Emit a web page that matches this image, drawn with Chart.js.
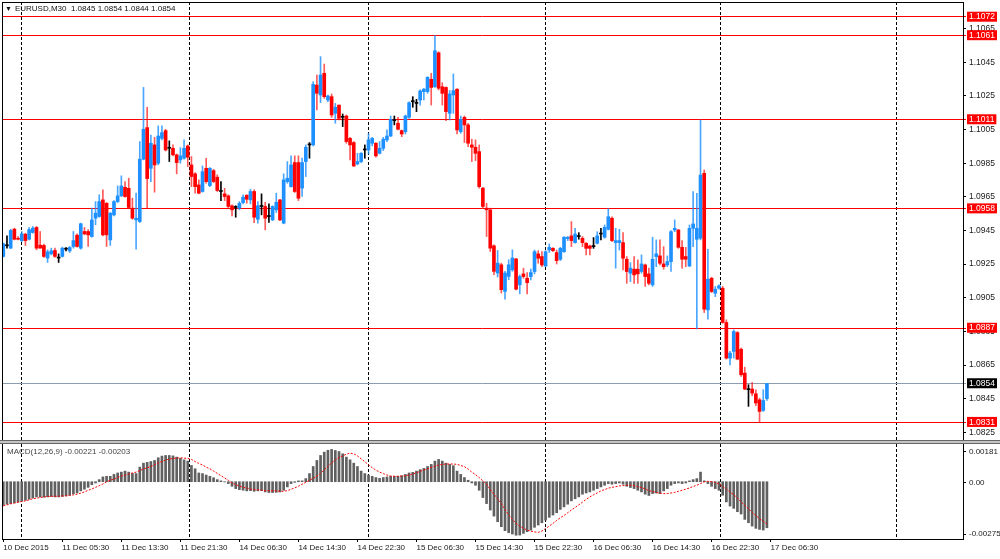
<!DOCTYPE html>
<html>
<head>
<meta charset="utf-8">
<script src="https://cdn.jsdelivr.net/npm/chart.js@4.4.0/dist/chart.umd.min.js"></script>
<style>
  body { margin: 0; background: #fff; width: 1000px; height: 559px; overflow: hidden; position: relative;
         font-family: "Liberation Sans", Arial, sans-serif; }
  canvas { position: absolute; left: 0; }
  #main { top: 0; }
  #macd { top: 441px; }
  .frame { position: absolute; left: 2px; top: 2px; width: 961px; height: 438px; border-left: 1px solid #000; border-top: 1px solid #000; box-sizing: border-box; pointer-events: none; }
  .frame2 { position: absolute; left: 2px; top: 443px; width: 1px; height: 96px; background: #000; }
  .split { position: absolute; left: 0; top: 440px; width: 1000px; height: 4px; background: #c4c4c4; border-top: 1px solid #666; border-bottom: 1px solid #666; box-sizing: border-box; }
  .hdr { position: absolute; left: 5px; top: 4px; font-size: 8px; color: #111; white-space: pre; }
  .hdr b { font-weight: normal; font-size: 7px; margin-right: 3px; }
  .mtitle { position: absolute; left: 7px; top: 447px; font-size: 8px; color: #444; white-space: pre; }
</style>
</head>
<body>
<canvas id="main" width="1000" height="441"></canvas>
<canvas id="macd" width="1000" height="118"></canvas>
<div class="frame"></div>
<div class="frame2"></div>
<div class="split"></div>
<div class="hdr"><b>▼</b>EURUSD,M30  1.0845 1.0854 1.0844 1.0854</div>
<div class="mtitle">MACD(12,26,9) -0.00221 -0.00203</div>
<script>
// EURUSD M30 candles, 10 Dec 21:30 .. 17 Dec 06:00
const opens = [
  1.09296,1.09359,1.09345,1.09458,1.09404,1.09390,1.09428,1.09398,1.09438,1.09468,
  1.09363,1.09361,1.09286,1.09311,1.09331,1.09286,1.09296,1.09339,1.09329,1.09355,
  1.09422,1.09345,1.09444,1.09444,1.09414,1.09523,1.09533,1.09632,1.09612,1.09394,
  1.09543,1.09622,1.09656,1.09707,1.09701,1.09583,1.09513,1.09503,1.09874,1.10062,
  1.09820,1.09959,1.09850,1.09998,1.10044,1.09939,1.09939,1.09900,1.09870,1.09880,
  1.09953,1.09840,1.09787,1.09721,1.09682,1.09820,1.09717,1.09806,1.09767,1.09682,
  1.09668,1.09656,1.09597,1.09587,1.09583,1.09616,1.09660,1.09632,1.09682,1.09517,
  1.09593,1.09593,1.09533,1.09513,1.09573,1.09632,1.09494,1.09741,1.09711,1.09854,
  1.09854,1.09702,1.09860,1.09959,1.09959,1.10315,1.10256,1.10385,1.10226,1.10246,
  1.10147,1.10196,1.10123,1.10131,1.09998,1.09973,1.09846,1.09860,1.09929,1.09929,
  1.09969,1.09969,1.09909,1.09939,1.09989,1.10012,1.10103,1.10088,1.10044,1.10038,
  1.10123,1.10216,1.10206,1.10226,1.10276,1.10276,1.10349,1.10305,1.10507,1.10305,
  1.10301,1.10147,1.10256,1.10290,1.10038,1.10123,1.10078,1.09959,1.09945,1.09919,
  1.09702,1.09583,1.09573,1.09359,1.09197,1.09246,1.09088,1.09177,1.09216,1.09281,
  1.09127,1.09192,1.09166,1.09176,1.09206,1.09311,1.09295,1.09239,1.09334,1.09344,
  1.09319,1.09279,1.09324,1.09402,1.09418,1.09378,1.09414,1.09404,1.09374,1.09358,
  1.09354,1.09374,1.09429,1.09410,1.09457,1.09523,1.09378,1.09378,1.09378,1.09279,
  1.09196,1.09220,1.09220,1.09206,1.09245,1.09192,1.09127,1.09295,1.09299,1.09251,
  1.09245,1.09265,1.09453,1.09453,1.09350,1.09295,1.09239,1.09463,1.09398,1.09404,
  1.09790,1.08978,1.09166,1.09077,1.09107,1.09107,1.08903,1.08691,1.08731,1.08843,
  1.08744,1.08602,1.08503,1.08507,1.08479,1.08443,1.08380,1.08450
];
const highs = [
  1.09375,1.09418,1.09458,1.09464,1.09414,1.09444,1.09434,1.09468,1.09474,1.09474,
  1.09444,1.09369,1.09335,1.09345,1.09345,1.09311,1.09351,1.09349,1.09355,1.09444,
  1.09430,1.09494,1.09468,1.09455,1.09583,1.09622,1.09662,1.09692,1.09616,1.09557,
  1.09628,1.09715,1.09775,1.09741,1.09761,1.09642,1.09672,1.09979,1.10301,1.10183,
  1.10018,1.10004,1.10072,1.10072,1.10052,1.09983,1.09959,1.09905,1.09943,1.09989,
  1.09959,1.09890,1.09795,1.09751,1.09834,1.09880,1.09824,1.09814,1.09781,1.09741,
  1.09701,1.09662,1.09602,1.09597,1.09622,1.09662,1.09662,1.09696,1.09692,1.09622,
  1.09668,1.09618,1.09608,1.09597,1.09672,1.09636,1.09787,1.09860,1.09894,1.09894,
  1.09894,1.09880,1.09959,1.09973,1.10335,1.10375,1.10484,1.10440,1.10256,1.10262,
  1.10206,1.10196,1.10143,1.10137,1.10004,1.09979,1.09909,1.09913,1.09959,1.10028,
  1.10004,1.09973,1.09979,1.10004,1.10048,1.10131,1.10131,1.10123,1.10048,1.10137,
  1.10216,1.10246,1.10230,1.10286,1.10296,1.10365,1.10385,1.10610,1.10513,1.10329,
  1.10305,1.10282,1.10381,1.10294,1.10131,1.10131,1.10088,1.09993,1.09989,1.09959,
  1.09707,1.09612,1.09583,1.09365,1.09331,1.09256,1.09207,1.09276,1.09335,1.09285,
  1.09186,1.09226,1.09200,1.09220,1.09334,1.09330,1.09324,1.09330,1.09370,1.09348,
  1.09334,1.09350,1.09414,1.09414,1.09503,1.09463,1.09437,1.09414,1.09378,1.09364,
  1.09408,1.09443,1.09463,1.09483,1.09580,1.09532,1.09463,1.09457,1.09437,1.09295,
  1.09259,1.09295,1.09275,1.09305,1.09251,1.09226,1.09410,1.09394,1.09394,1.09354,
  1.09299,1.09449,1.09513,1.09457,1.09390,1.09350,1.09483,1.09681,1.09671,1.10107,
  1.09810,1.09338,1.09172,1.09117,1.09127,1.09117,1.08919,1.08731,1.08859,1.08849,
  1.08750,1.08637,1.08533,1.08546,1.08503,1.08453,1.08503,1.08540
];
const lows = [
  1.09292,1.09345,1.09343,1.09394,1.09394,1.09384,1.09361,1.09394,1.09434,1.09335,
  1.09345,1.09290,1.09260,1.09305,1.09290,1.09260,1.09292,1.09329,1.09319,1.09345,
  1.09351,1.09339,1.09424,1.09355,1.09410,1.09484,1.09529,1.09418,1.09355,1.09361,
  1.09537,1.09616,1.09652,1.09648,1.09583,1.09517,1.09339,1.09497,1.09870,1.09583,
  1.09741,1.09678,1.09840,1.09989,1.09923,1.09860,1.09894,1.09787,1.09850,1.09874,
  1.09830,1.09711,1.09672,1.09668,1.09678,1.09731,1.09711,1.09735,1.09682,1.09628,
  1.09628,1.09583,1.09537,1.09529,1.09573,1.09608,1.09612,1.09608,1.09497,1.09494,
  1.09543,1.09454,1.09498,1.09509,1.09557,1.09509,1.09490,1.09731,1.09707,1.09676,
  1.09628,1.09652,1.09771,1.09880,1.09953,1.10167,1.10210,1.10236,1.10216,1.10123,
  1.10088,1.10107,1.10068,1.09969,1.09870,1.09830,1.09840,1.09854,1.09880,1.09905,
  1.09953,1.09886,1.09905,1.09925,1.09979,1.10008,1.10078,1.10048,1.10008,1.10024,
  1.10117,1.10183,1.10157,1.10196,1.10226,1.10266,1.10196,1.10301,1.10286,1.10196,
  1.10103,1.10107,1.10147,1.10024,1.10028,1.09973,1.09949,1.09860,1.09866,1.09702,
  1.09583,1.09414,1.09325,1.09187,1.09173,1.09078,1.09042,1.09157,1.09207,1.09097,
  1.09073,1.09166,1.09073,1.09156,1.09192,1.09255,1.09235,1.09235,1.09319,1.09324,
  1.09251,1.09271,1.09319,1.09390,1.09354,1.09374,1.09398,1.09354,1.09305,1.09305,
  1.09344,1.09370,1.09394,1.09404,1.09453,1.09384,1.09226,1.09334,1.09216,1.09136,
  1.09146,1.09136,1.09136,1.09196,1.09117,1.09127,1.09117,1.09235,1.09245,1.09220,
  1.09235,1.09206,1.09443,1.09344,1.09226,1.09235,1.09235,1.09354,1.08865,1.09394,
  1.08962,1.08923,1.09081,1.09057,1.09101,1.08899,1.08685,1.08651,1.08691,1.08681,
  1.08582,1.08503,1.08404,1.08467,1.08408,1.08311,1.08374,1.08440
];
const closes = [
  1.09371,1.09359,1.09450,1.09398,1.09398,1.09430,1.09390,1.09455,1.09464,1.09345,
  1.09345,1.09296,1.09323,1.09329,1.09296,1.09286,1.09345,1.09339,1.09349,1.09390,
  1.09355,1.09490,1.09430,1.09424,1.09513,1.09553,1.09622,1.09424,1.09424,1.09553,
  1.09622,1.09656,1.09715,1.09652,1.09587,1.09523,1.09523,1.09874,1.10052,1.09759,
  1.09969,1.09840,1.10012,1.10032,1.09929,1.09939,1.09900,1.09854,1.09894,1.09939,
  1.09886,1.09771,1.09711,1.09672,1.09800,1.09741,1.09820,1.09741,1.09688,1.09682,
  1.09652,1.09593,1.09573,1.09587,1.09612,1.09648,1.09636,1.09682,1.09529,1.09597,
  1.09593,1.09523,1.09533,1.09593,1.09618,1.09513,1.09751,1.09761,1.09840,1.09682,
  1.09642,1.09854,1.09945,1.09959,1.10319,1.10266,1.10375,1.10246,1.10250,1.10137,
  1.10183,1.10117,1.10123,1.09979,1.09959,1.09834,1.09860,1.09909,1.09929,1.09989,
  1.09998,1.09894,1.09939,1.09993,1.10012,1.10111,1.10103,1.10052,1.10024,1.10131,
  1.10210,1.10216,1.10206,1.10280,1.10290,1.10361,1.10301,1.10519,1.10296,1.10266,
  1.10157,1.10262,1.10282,1.10048,1.10111,1.10078,1.09969,1.09945,1.09909,1.09711,
  1.09593,1.09573,1.09345,1.09207,1.09256,1.09098,1.09197,1.09246,1.09286,1.09101,
  1.09176,1.09176,1.09140,1.09200,1.09324,1.09285,1.09245,1.09324,1.09350,1.09330,
  1.09271,1.09344,1.09410,1.09410,1.09390,1.09429,1.09414,1.09378,1.09344,1.09344,
  1.09354,1.09418,1.09429,1.09469,1.09532,1.09390,1.09390,1.09390,1.09285,1.09206,
  1.09226,1.09186,1.09192,1.09251,1.09176,1.09136,1.09279,1.09311,1.09255,1.09235,
  1.09265,1.09443,1.09463,1.09350,1.09279,1.09279,1.09463,1.09489,1.09463,1.09780,
  1.08982,1.09160,1.09087,1.09101,1.09121,1.08903,1.08691,1.08721,1.08849,1.08685,
  1.08592,1.08507,1.08503,1.08483,1.08424,1.08374,1.08439,1.08540
];

// MACD(12,26,9): main histogram and signal
const macdMain = [
  -0.00113,-0.00108,-0.00105,-0.00101,-0.00098,-0.00093,-0.00089,-0.00084,-0.00078,-0.00073,
  -0.00073,-0.00074,-0.00073,-0.00071,-0.00073,-0.00073,-0.00071,-0.00068,-0.00065,-0.00058,
  -0.00054,-0.00044,-0.00036,-0.00027,-0.00014,-0.00006,0.00010,0.00023,0.00026,0.00026,
  0.00035,0.00042,0.00046,0.00051,0.00046,0.00040,0.00039,0.00070,0.00089,0.00093,
  0.00097,0.00102,0.00115,0.00123,0.00126,0.00126,0.00124,0.00118,0.00112,0.00105,
  0.00099,0.00078,0.00062,0.00042,0.00039,0.00032,0.00026,0.00019,0.00010,0.00004,
  -0.00001,-0.00009,-0.00022,-0.00033,-0.00038,-0.00041,-0.00044,-0.00043,-0.00046,-0.00044,
  -0.00043,-0.00049,-0.00052,-0.00052,-0.00051,-0.00049,-0.00041,-0.00025,-0.00009,-0.00003,
  0.00004,0.00004,0.00015,0.00039,0.00073,0.00102,0.00126,0.00142,0.00151,0.00155,
  0.00150,0.00145,0.00134,0.00118,0.00105,0.00089,0.00073,0.00051,0.00039,0.00032,
  0.00026,0.00020,0.00016,0.00020,0.00023,0.00026,0.00026,0.00026,0.00029,0.00035,
  0.00042,0.00045,0.00051,0.00058,0.00064,0.00073,0.00083,0.00099,0.00107,0.00099,
  0.00089,0.00083,0.00077,0.00051,0.00035,0.00020,0.00007,-0.00006,-0.00017,-0.00041,
  -0.00076,-0.00105,-0.00136,-0.00165,-0.00192,-0.00216,-0.00235,-0.00245,-0.00251,-0.00257,
  -0.00256,-0.00248,-0.00240,-0.00232,-0.00219,-0.00208,-0.00197,-0.00184,-0.00171,-0.00160,
  -0.00149,-0.00133,-0.00121,-0.00108,-0.00092,-0.00082,-0.00073,-0.00060,-0.00054,-0.00049,
  -0.00041,-0.00033,-0.00025,-0.00017,-0.00009,-0.00012,-0.00009,-0.00006,-0.00012,-0.00022,
  -0.00028,-0.00033,-0.00041,-0.00049,-0.00060,-0.00066,-0.00057,-0.00054,-0.00057,-0.00044,
  -0.00033,-0.00017,-0.00009,-0.00006,-0.00009,-0.00006,0.00004,0.00010,0.00015,0.00046,
  0.00004,-0.00009,-0.00022,-0.00033,-0.00041,-0.00065,-0.00097,-0.00117,-0.00128,-0.00144,
  -0.00155,-0.00181,-0.00197,-0.00213,-0.00224,-0.00229,-0.00232,-0.00221
];
const macdSignal = [
  -0.00116,-0.00111,-0.00106,-0.00103,-0.00098,-0.00095,-0.00092,-0.00087,-0.00082,-0.00079,
  -0.00076,-0.00073,-0.00071,-0.00070,-0.00070,-0.00070,-0.00068,-0.00068,-0.00066,-0.00063,
  -0.00060,-0.00055,-0.00049,-0.00041,-0.00035,-0.00027,-0.00019,-0.00011,-0.00001,0.00007,
  0.00013,0.00020,0.00027,0.00032,0.00037,0.00042,0.00046,0.00053,0.00061,0.00067,
  0.00073,0.00081,0.00091,0.00097,0.00104,0.00108,0.00112,0.00113,0.00115,0.00113,
  0.00112,0.00107,0.00097,0.00088,0.00080,0.00070,0.00062,0.00051,0.00040,0.00029,
  0.00018,0.00007,-0.00006,-0.00014,-0.00020,-0.00027,-0.00030,-0.00035,-0.00038,-0.00039,
  -0.00041,-0.00043,-0.00043,-0.00044,-0.00044,-0.00046,-0.00046,-0.00043,-0.00036,-0.00030,
  -0.00022,-0.00012,-0.00003,0.00007,0.00016,0.00027,0.00040,0.00058,0.00073,0.00091,
  0.00105,0.00116,0.00124,0.00132,0.00137,0.00134,0.00124,0.00110,0.00096,0.00081,
  0.00067,0.00056,0.00046,0.00039,0.00032,0.00027,0.00026,0.00026,0.00027,0.00029,
  0.00032,0.00037,0.00043,0.00050,0.00056,0.00062,0.00069,0.00075,0.00080,0.00083,
  0.00085,0.00085,0.00085,0.00083,0.00078,0.00072,0.00061,0.00046,0.00034,0.00020,
  0.00004,-0.00011,-0.00038,-0.00060,-0.00082,-0.00105,-0.00133,-0.00159,-0.00181,-0.00200,
  -0.00213,-0.00224,-0.00232,-0.00237,-0.00241,-0.00243,-0.00237,-0.00225,-0.00213,-0.00200,
  -0.00186,-0.00173,-0.00162,-0.00149,-0.00136,-0.00124,-0.00111,-0.00098,-0.00085,-0.00073,
  -0.00063,-0.00054,-0.00044,-0.00038,-0.00031,-0.00027,-0.00024,-0.00020,-0.00019,-0.00017,
  -0.00017,-0.00019,-0.00024,-0.00028,-0.00035,-0.00043,-0.00047,-0.00052,-0.00055,-0.00057,
  -0.00057,-0.00054,-0.00051,-0.00046,-0.00041,-0.00036,-0.00030,-0.00023,-0.00017,-0.00009,
  -0.00001,0.00002,0.00000,-0.00003,-0.00011,-0.00023,-0.00036,-0.00050,-0.00062,-0.00078,
  -0.00097,-0.00113,-0.00130,-0.00148,-0.00162,-0.00178,-0.00190,-0.00203
];

// axis labels
const timeLabels = ["10 Dec 2015","11 Dec 05:30","11 Dec 13:30","11 Dec 21:30","14 Dec 06:30",
  "14 Dec 14:30","14 Dec 22:30","15 Dec 06:30","15 Dec 14:30","15 Dec 22:30",
  "16 Dec 06:30","16 Dec 14:30","16 Dec 22:30","17 Dec 06:30"];
const timeLabelBars = [0,16,32,48,64,80,96,112,128,144,160,176,192,208];
const daySeparatorBars = [5, 50.6, 98.9, 146.9, 194.3, 242];
const priceTicks = [1.0825,1.0845,1.0865,1.0885,1.0905,1.0925,1.0945,1.0965,1.0985,1.1005,1.1025,1.1045,1.1065];
const levelLines = [1.1072, 1.1061, 1.1011, 1.0958, 1.0887, 1.0831];
const bidPrice = 1.0854;
const macdLabelTexts = ["0.00181", "0.00", "-0.00275"];
const macdLabelAt = [0.00143, -0.00005, -0.00251];

const X_MIN = -0.352, X_MAX = 260.15;
const FONT = '"Liberation Sans", Arial, sans-serif';
const idx = closes.map((_, i) => i);

const bodyColor = idx.map(i => closes[i] > opens[i] ? '#1e90ff' : closes[i] < opens[i] ? '#ff0000' : '#000000');
const wickColor = idx.map(i => closes[i] > opens[i] ? 'rgba(30,144,255,0.8)' : closes[i] < opens[i] ? 'rgba(255,0,0,0.65)' : '#000000');

// stop Chart.js from reserving room for half-labels at the axis ends
function noPad(s) { s.paddingTop = 0; s.paddingBottom = 0; s.paddingLeft = 0; s.paddingRight = 0; }

function sepAxis() {
  return {
    type: 'linear', axis: 'x', position: 'bottom', min: X_MIN, max: X_MAX, offset: false,
    afterBuildTicks: s => { s.ticks = daySeparatorBars.map(v => ({ value: v })); },
    afterFit: s => { s.height = 0; noPad(s); },
    ticks: { display: false },
    grid: { offset: false, drawTicks: false, color: '#000', lineWidth: 1 },
    border: { display: false, dash: [3, 2] }
  };
}

const kindOf = c => (c.tick && c.tick.kind) || 'n';

new Chart(document.getElementById('main'), {
  type: 'bar',
  data: {
    datasets: [
      { data: idx.map(i => ({ x: i, y: [opens[i], closes[i]] })), backgroundColor: bodyColor,
        barThickness: 3, minBarLength: 1, grouped: false, order: 0 },
      { data: idx.map(i => ({ x: i, y: [lows[i], highs[i]] })), backgroundColor: wickColor,
        barThickness: 1, grouped: false, order: 1 }
    ]
  },
  options: {
    responsive: false, animation: false,
    layout: { padding: { left: 2, top: 2, right: 0, bottom: 1 } },
    plugins: { legend: { display: false }, tooltip: { enabled: false } },
    scales: {
      x: { type: 'linear', min: X_MIN, max: X_MAX, offset: false, display: false, grid: { offset: false } },
      xs: sepAxis(),
      y: {
        position: 'right', min: 1.08204, max: 1.10809,
        afterBuildTicks: s => {
          s.ticks = priceTicks.map(v => ({ value: v, kind: 'n' }))
            .concat([{ value: bidPrice, kind: 'bid' }])
            .concat(levelLines.map(v => ({ value: v, kind: 'lvl' })));
        },
        afterFit: s => { s.width = 37; noPad(s); },
        border: { display: true, color: '#000', width: 1 },
        grid: {
          drawTicks: true, tickLength: 3, lineWidth: 1,
          color: c => kindOf(c) === 'lvl' ? '#ff0000' : kindOf(c) === 'bid' ? '#8d9db0' : 'rgba(0,0,0,0)',
          tickColor: c => kindOf(c) === 'lvl' ? '#ff0000' : kindOf(c) === 'bid' ? '#8d9db0' : '#000'
        },
        ticks: {
          autoSkip: false, padding: 3,
          font: { family: FONT, size: 8.5, lineHeight: 1 },
          color: c => kindOf(c) === 'n' ? '#1a1a1a' : '#ffffff',
          callback: v => v.toFixed(4),
          showLabelBackdrop: c => kindOf(c) !== 'n',
          backdropColor: c => kindOf(c) === 'lvl' ? '#ff0000' : kindOf(c) === 'bid' ? '#000000' : 'rgba(0,0,0,0)',
          backdropPadding: { top: 1, bottom: 0.5, left: 2, right: 2 }
        }
      }
    }
  }
});

new Chart(document.getElementById('macd'), {
  type: 'bar',
  data: {
    datasets: [
      { type: 'line', data: idx.map(i => ({ x: i, y: macdSignal[i] })), borderColor: '#ff0000',
        borderWidth: 1, borderDash: [2, 1.5], pointRadius: 0, tension: 0, order: 0 },
      { type: 'bar', data: idx.map(i => ({ x: i, y: macdMain[i] })), backgroundColor: '#606060',
        barThickness: 2, grouped: false, order: 1 }
    ]
  },
  options: {
    responsive: false, animation: false,
    layout: { padding: { left: 2, top: 3, right: 0, bottom: 0 } },
    plugins: { legend: { display: false }, tooltip: { enabled: false } },
    scales: {
      x: {
        type: 'linear', position: 'bottom', min: X_MIN, max: X_MAX, offset: false,
        afterBuildTicks: s => { s.ticks = timeLabelBars.map(v => ({ value: v })); },
        afterFit: s => { s.height = 20; noPad(s); },
        ticks: { autoSkip: false, maxRotation: 0, align: 'start', padding: 1,
                 font: { family: FONT, size: 8 }, color: '#1a1a1a',
                 callback: (v, i) => timeLabels[i] },
        grid: { offset: false, drawOnChartArea: false, tickLength: 3, color: '#000' },
        border: { display: true, color: '#000' }
      },
      xs: sepAxis(),
      y: {
        position: 'right', min: -0.00275, max: 0.00181,
        afterBuildTicks: s => { s.ticks = macdLabelAt.map(v => ({ value: v })); },
        afterFit: s => { s.width = 37; noPad(s); },
        ticks: { autoSkip: false, padding: 3, font: { family: FONT, size: 8 }, color: '#1a1a1a',
                 callback: (v, i) => macdLabelTexts[i] },
        grid: { drawOnChartArea: false, tickLength: 3, color: '#000' },
        border: { display: true, color: '#000' }
      }
    }
  }
});
</script>
</body>
</html>
